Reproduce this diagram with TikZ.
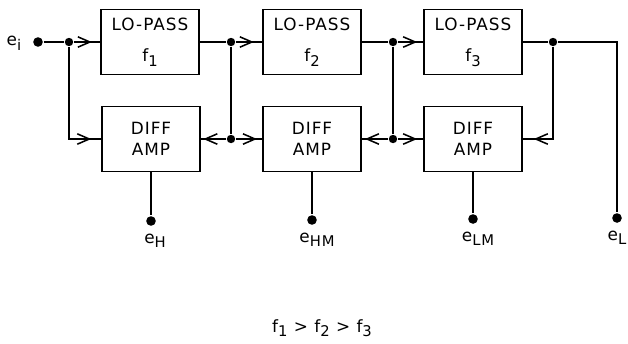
\documentclass[tikz,border=0pt]{standalone}
\usepackage{fontspec}
\setmainfont[LetterSpace=6]{DejaVu Sans}
\usetikzlibrary{arrows.meta, decorations.markings}

\newcommand{\lsub}[1]{\raisebox{-0.5ex}{\fontsize{10.5}{10.5}\selectfont #1}}

\begin{document}
\begin{tikzpicture}[
    x=0.25mm, y=-0.25mm,
    line width=1.2pt,
    lopass/.style={draw, minimum width=24.5mm, minimum height=16.25mm, align=center, font=\fontsize{12}{22.5}\selectfont},
    diffamp/.style={draw, minimum width=24.5mm, minimum height=16.25mm, align=center, font=\fontsize{12}{15}\selectfont},
    dot/.style={circle, fill, inner sep=0pt, minimum size=2.4mm},
    jdot/.style={circle, fill, inner sep=0pt, minimum size=2.1mm},
    lbl/.style={inner sep=0pt, font=\fontsize{12}{14}\selectfont},
    midarr/.style={postaction={decorate}, decoration={markings,
        mark=at position #1 with {\arrow{Straight Barb[length=3mm, width=2.6mm, line width=1.1pt]}}}},
]
\useasboundingbox (0,0) rectangle (628,343);

% Tiefpass-Kette
\node[lopass] (lp1) at (150,42) {LO-PASS\\f\lsub{1}};
\node[lopass] (lp2) at (312,42) {LO-PASS\\f\lsub{2}};
\node[lopass] (lp3) at (473,42) {LO-PASS\\f\lsub{3}};

% Differenzverstaerker
\node[diffamp] (da1) at (151,139) {DIFF\\AMP};
\node[diffamp] (da2) at (312,139) {DIFF\\AMP};
\node[diffamp] (da3) at (473,139) {DIFF\\AMP};

% Eingang und Knoten
\node[dot] (in) at (38,42) {};
\node[lbl, anchor=east] at (22,43) {e\lsub{i}};
\node[jdot] (j0) at (69,42) {};
\node[jdot] (j1) at (231,42) {};
\node[jdot] (j2) at (393,42) {};
\node[jdot] (j3) at (553,42) {};
\node[jdot] (k1) at (231,139) {};
\node[jdot] (k2) at (393,139) {};

% Ausgaenge
\node[dot] (oH)  at (151,221) {};
\node[dot] (oHM) at (312,220) {};
\node[dot] (oLM) at (473,219) {};
\node[dot] (oL)  at (617,218) {};
\node[lbl, anchor=base] at (155,243) {e\lsub{H}};
\node[lbl, anchor=base] at (317,242) {e\lsub{HM}};
\node[lbl, anchor=base] at (478,241) {e\lsub{LM}};
\node[lbl, anchor=base] at (617,240) {e\lsub{L}};

% Signalweg oben
\draw (in) -- (j0);
\draw[midarr=0.68] (j0) -- (lp1.west);
\draw (lp1.east) -- (j1);
\draw[midarr=0.68] (j1) -- (lp2.west);
\draw (lp2.east) -- (j2);
\draw[midarr=0.76] (j2) -- (lp3.west);
\draw (lp3.east) -- (j3);
\draw (j3) -| (oL);

% Abzweige nach unten
\draw[midarr=0.92] (j0) |- (da1.west);
\draw (j1) -- (k1);
\draw (j2) -- (k2);
\draw[midarr=0.9] (k1) -- (da1.east);
\draw[midarr=0.8] (k1) -- (da2.west);
\draw[midarr=0.88] (k2) -- (da2.east);
\draw[midarr=0.76] (k2) -- (da3.west);
\draw[midarr=0.91] (j3) |- (da3.east);

% Ausgangsleitungen
\draw (da1.south) -- (oH);
\draw (da2.south) -- (oHM);
\draw (da3.south) -- (oLM);

% Bedingung
\node[lbl, anchor=base] (cond) at (322,332) {f\lsub{1} > f\lsub{2} > f\lsub{3}};

\end{tikzpicture}
\end{document}
